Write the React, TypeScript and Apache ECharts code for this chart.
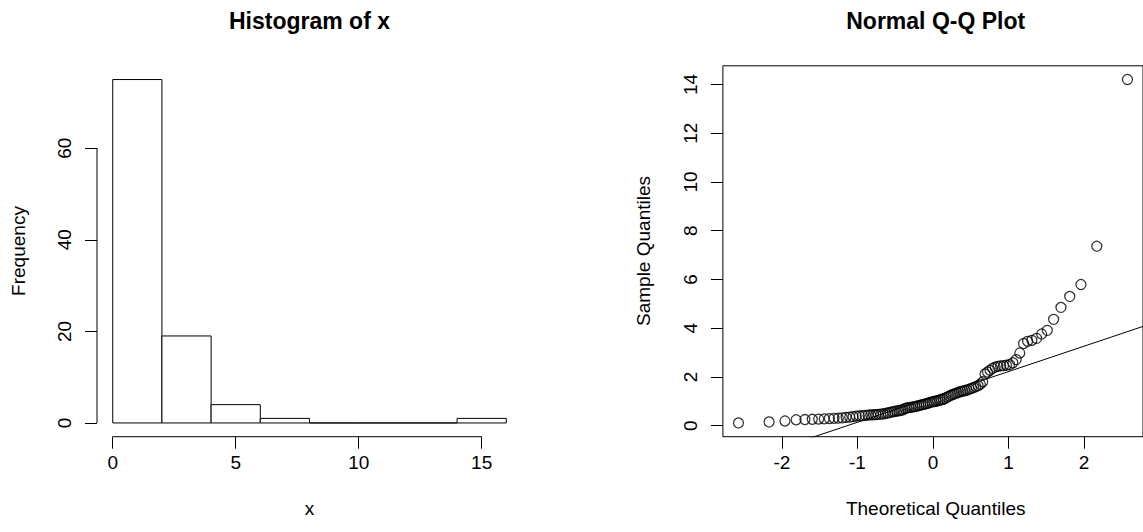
import React, { useEffect, useRef } from "react";
import * as echarts from "echarts";

// ---------- Histogram data ----------
const binEdges = [0, 2, 4, 6, 8, 10, 12, 14, 16];
const binCounts = [75, 19, 4, 1, 0, 0, 0, 1];
const histXTicks = [0, 5, 10, 15];
const histYTicks = [0, 20, 40, 60];

// ---------- Q-Q data (sorted sample vs. normal quantiles, n = 100) ----------
const theoreticalQuantiles = [
  -2.5758, -2.1701, -1.96, -1.8119, -1.6954, -1.5982, -1.5141, -1.4395, -1.3722, -1.3106,
  -1.2536, -1.2004, -1.1503, -1.1031, -1.0581, -1.0152, -0.9741, -0.9346, -0.8965, -0.8596,
  -0.8239, -0.7892, -0.7554, -0.7225, -0.6903, -0.6588, -0.628, -0.5978, -0.5681, -0.5388,
  -0.5101, -0.4817, -0.4538, -0.4261, -0.3989, -0.3719, -0.3451, -0.3186, -0.2924, -0.2663,
  -0.2404, -0.2147, -0.1891, -0.1637, -0.1383, -0.113, -0.0878, -0.0627, -0.0376, -0.0125,
  0.0125, 0.0376, 0.0627, 0.0878, 0.113, 0.1383, 0.1637, 0.1891, 0.2147, 0.2404,
  0.2663, 0.2924, 0.3186, 0.3451, 0.3719, 0.3989, 0.4261, 0.4538, 0.4817, 0.5101,
  0.5388, 0.5681, 0.5978, 0.628, 0.6588, 0.6903, 0.7225, 0.7554, 0.7892, 0.8239,
  0.8596, 0.8965, 0.9346, 0.9741, 1.0152, 1.0581, 1.1031, 1.1503, 1.2004, 1.2536,
  1.3106, 1.3722, 1.4395, 1.5141, 1.5982, 1.6954, 1.8119, 1.96, 2.1701, 2.5758,
];
const sampleQuantiles = [
  0.11, 0.15, 0.19, 0.24, 0.25, 0.26, 0.27, 0.28, 0.29, 0.3,
  0.31, 0.32, 0.34, 0.35, 0.37, 0.39, 0.4, 0.41, 0.42, 0.43,
  0.44, 0.445, 0.45, 0.46, 0.47, 0.48, 0.5, 0.52, 0.54, 0.56,
  0.58, 0.6, 0.61, 0.63, 0.65, 0.7, 0.73, 0.74, 0.75, 0.77,
  0.78, 0.8, 0.82, 0.84, 0.86, 0.88, 0.9, 0.92, 0.95, 0.97,
  0.99, 1.0, 1.02, 1.04, 1.06, 1.08, 1.12, 1.17, 1.21, 1.25,
  1.28, 1.31, 1.34, 1.38, 1.4, 1.42, 1.44, 1.46, 1.5, 1.53,
  1.56, 1.6, 1.64, 1.7, 1.8, 2.12, 2.2, 2.27, 2.35, 2.4,
  2.43, 2.45, 2.46, 2.48, 2.5, 2.58, 2.71, 2.98, 3.37, 3.46,
  3.5, 3.58, 3.76, 3.91, 4.36, 4.85, 5.3, 5.79, 7.36, 14.2,
];
const qqXTicks = [-2, -1, 0, 1, 2];
const qqYTicks = [0, 2, 4, 6, 8, 10, 12, 14];

const FONT = "'Liberation Sans', Arial, Helvetica, sans-serif";

function quantile7(sorted: number[], p: number) {
  const h = (sorted.length - 1) * p;
  const lo = Math.floor(h);
  return sorted[lo] + (h - lo) * (sorted[lo + 1] - sorted[lo]);
}

function extend(min: number, max: number): [number, number] {
  const d = (max - min) * 0.04;
  return [min - d, max + d];
}

export default function App() {
  const ref = useRef<HTMLDivElement>(null);

  useEffect(() => {
    if (!ref.current) return;
    const chart = echarts.init(ref.current, undefined, { renderer: "svg" });

    const [hxMin, hxMax] = extend(binEdges[0], binEdges[binEdges.length - 1]);
    const [hyMin, hyMax] = extend(0, Math.max(...binCounts));
    const [qxMin, qxMax] = extend(
      Math.min(...theoreticalQuantiles),
      Math.max(...theoreticalQuantiles)
    );
    const [qyMin, qyMax] = extend(
      Math.min(...sampleQuantiles),
      Math.max(...sampleQuantiles)
    );

    // qqline through the first and third quartiles
    const zq = 0.6744898;
    const q1 = quantile7(sampleQuantiles, 0.25);
    const q3 = quantile7(sampleQuantiles, 0.75);
    const slope = (q3 - q1) / (2 * zq);
    const intercept = q1 + slope * zq;

    const axisTextStyle = { color: "#000", fontSize: 19, fontFamily: FONT };
    const tickStyle = { color: "#000", width: 1 };
    const hiddenLine = { show: false, onZero: false };

    const option: any = {
      animation: false,
      backgroundColor: "#fff",
      grid: [
        { left: 97, top: 65.8, width: 425, height: 370.9, containLabel: false },
        {
          left: 722.9,
          top: 65.8,
          width: 425.6,
          height: 370.9,
          show: true,
          borderColor: "#000",
          borderWidth: 1,
          backgroundColor: "transparent",
        },
      ],
      xAxis: [
        {
          type: "value",
          gridIndex: 0,
          position: "bottom",
          min: hxMin,
          max: hxMax,
          axisLine: hiddenLine,
          splitLine: { show: false },
          axisTick: { show: true, length: 12, lineStyle: tickStyle, customValues: histXTicks },
          axisLabel: { ...axisTextStyle, margin: 16, customValues: histXTicks },
        },
        {
          type: "value",
          gridIndex: 1,
          position: "bottom",
          min: qxMin,
          max: qxMax,
          axisLine: hiddenLine,
          splitLine: { show: false },
          axisTick: { show: true, length: 12, lineStyle: tickStyle, customValues: qqXTicks },
          axisLabel: { ...axisTextStyle, margin: 16, customValues: qqXTicks },
        },
      ],
      yAxis: [
        {
          type: "value",
          gridIndex: 0,
          position: "left",
          min: hyMin,
          max: hyMax,
          axisLine: hiddenLine,
          splitLine: { show: false },
          axisTick: { show: true, length: 12, lineStyle: tickStyle, customValues: histYTicks },
          axisLabel: { ...axisTextStyle, rotate: 90, margin: 23, customValues: histYTicks },
        },
        {
          type: "value",
          gridIndex: 1,
          position: "left",
          min: qyMin,
          max: qyMax,
          axisLine: hiddenLine,
          splitLine: { show: false },
          axisTick: { show: true, length: 12, lineStyle: tickStyle, customValues: qqYTicks },
          axisLabel: { ...axisTextStyle, rotate: 90, margin: 23, customValues: qqYTicks },
        },
      ],
      series: [
        {
          type: "custom",
          xAxisIndex: 0,
          yAxisIndex: 0,
          silent: true,
          data: binCounts.map((c, i) => [binEdges[i], binEdges[i + 1], c]),
          encode: { x: [0, 1], y: 2 },
          renderItem: (params: any, api: any) => {
            const p0 = api.coord([api.value(0), 0]);
            const p1 = api.coord([api.value(1), api.value(2)]);
            return {
              type: "rect",
              shape: { x: p0[0], y: p1[1], width: p1[0] - p0[0], height: p0[1] - p1[1] },
              style: { fill: "#fff", stroke: "#000", lineWidth: 1 },
            };
          },
        },
        // histogram axis lines (span first to last tick, R style)
        {
          type: "line",
          xAxisIndex: 0,
          yAxisIndex: 0,
          silent: true,
          symbol: "none",
          clip: false,
          lineStyle: { color: "#000", width: 1 },
          data: [
            [histXTicks[0], hyMin],
            [histXTicks[histXTicks.length - 1], hyMin],
          ],
        },
        {
          type: "line",
          xAxisIndex: 0,
          yAxisIndex: 0,
          silent: true,
          symbol: "none",
          clip: false,
          lineStyle: { color: "#000", width: 1 },
          data: [
            [hxMin, histYTicks[0]],
            [hxMin, histYTicks[histYTicks.length - 1]],
          ],
        },
        // Q-Q points
        {
          type: "scatter",
          xAxisIndex: 1,
          yAxisIndex: 1,
          silent: true,
          symbol: "circle",
          symbolSize: 10,
          itemStyle: { color: "transparent", borderColor: "#000", borderWidth: 1.25 },
          data: theoreticalQuantiles.map((t, i) => [t, sampleQuantiles[i]]),
        },
        // qqline
        {
          type: "line",
          xAxisIndex: 1,
          yAxisIndex: 1,
          silent: true,
          symbol: "none",
          clip: true,
          lineStyle: { color: "#000", width: 1 },
          data: [
            [qxMin, intercept + slope * qxMin],
            [qxMax, intercept + slope * qxMax],
          ],
        },
      ],
      graphic: [
        {
          type: "text",
          x: 309.5,
          y: 21,
          style: {
            text: "Histogram of x",
            font: `bold 23px ${FONT}`,
            fill: "#000",
            textAlign: "center",
            textVerticalAlign: "middle",
          },
        },
        {
          type: "text",
          x: 935.7,
          y: 21,
          style: {
            text: "Normal Q-Q Plot",
            font: `bold 23px ${FONT}`,
            fill: "#000",
            textAlign: "center",
            textVerticalAlign: "middle",
          },
        },
        {
          type: "text",
          x: 309.5,
          y: 508,
          style: {
            text: "x",
            font: `19px ${FONT}`,
            fill: "#000",
            textAlign: "center",
            textVerticalAlign: "middle",
          },
        },
        {
          type: "text",
          x: 935.7,
          y: 508,
          style: {
            text: "Theoretical Quantiles",
            font: `19px ${FONT}`,
            fill: "#000",
            textAlign: "center",
            textVerticalAlign: "middle",
          },
        },
        {
          type: "text",
          x: 18,
          y: 251,
          rotation: Math.PI / 2,
          style: {
            text: "Frequency",
            font: `19px ${FONT}`,
            fill: "#000",
            textAlign: "center",
            textVerticalAlign: "middle",
          },
        },
        {
          type: "text",
          x: 643,
          y: 251,
          rotation: Math.PI / 2,
          style: {
            text: "Sample Quantiles",
            font: `19px ${FONT}`,
            fill: "#000",
            textAlign: "center",
            textVerticalAlign: "middle",
          },
        },
      ],
    };

    chart.setOption(option);
    return () => chart.dispose();
  }, []);

  return (
    <div
      ref={ref}
      style={{ position: "fixed", left: 0, top: 0, width: 1143, height: 532, background: "#fff" }}
    />
  );
}
